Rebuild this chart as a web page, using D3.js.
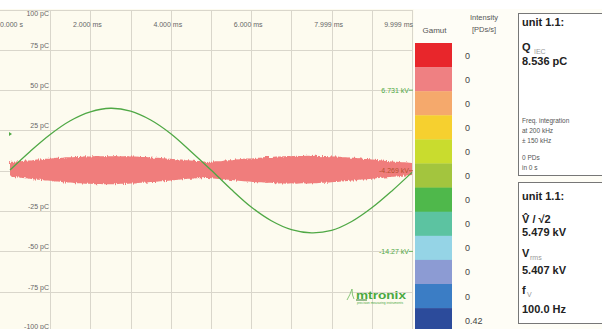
<!DOCTYPE html>
<html>
<head>
<meta charset="utf-8">
<script src="https://cdn.jsdelivr.net/npm/d3@7"></script>
<style>
  html, body { margin: 0; padding: 0; background: #fefdf6; }
  svg { display: block; font-family: "Liberation Sans", Arial, sans-serif; }
</style>
</head>
<body>
<svg id="chart" width="602" height="329"></svg>
<script>
// ---- Axis ticks ----
const xTickValues = [0, 2, 4, 6, 8, 10];               // ms
const xTickLabels = ["0.000 s", "2.000 ms", "4.000 ms", "6.000 ms", "7.999 ms", "9.999 ms"];
const yTickValues = [100, 75, 50, 25, 0, -25, -50, -75, -100]; // pC
const yTickLabels = ["100 pC", "75 pC", "50 pC", "25 pC", "0.0 C", "-25 pC", "-50 pC", "-75 pC", "-100 pC"];

// Voltage markers on the right edge of the plot (placed on the pC gridlines)
const voltMarkAt = [50, 0, -50];
const voltMarkLabels = ["6.731 kV", "-4.269 kV", "-14.27 kV"];
const voltMarkColors = ["#4fa845", "#b3502e", "#4fa845"];

// ---- Test voltage, kV, sampled every 0.5 ms ----
const voltStepMs = 0.5;
const voltageKV = [0.1, 2.4, 4.5, 6.2, 7.3, 7.75, 7.4, 6.3, 4.6, 2.4, 0.1,
                   -2.3, -4.5, -6.2, -7.3, -7.7, -7.4, -6.3, -4.6, -2.5, -0.2];

// ---- PD charge band envelope, pC, sampled every 0.125 ms ----
const pdStepMs = 0.125;
const pdUpper = [5.2, 5.8, 5.8, 6.4, 6.3, 6.8, 6.9, 7.5, 7.4, 8.0, 7.9, 8.4, 8.3, 8.6, 8.6, 9.0, 8.8, 9.1, 9.0, 9.2, 9.0,
                 9.2, 8.9, 9.1, 8.8, 8.9, 8.5, 8.6, 8.2, 8.0, 7.9, 7.6, 7.4, 7.1, 6.9, 6.5, 6.4, 6.0, 5.9, 5.5, 5.6,
                 5.9, 5.9, 6.5, 6.5, 7.0, 7.1, 7.6, 7.6, 8.1, 8.1, 8.5, 8.5, 8.8, 8.8, 9.1, 9.0, 9.3, 9.1, 9.3, 9.2,
                 9.3, 9.0, 9.1, 8.8, 8.8, 8.4, 8.4, 8.0, 7.9, 7.5, 7.3, 7.0, 6.7, 6.4, 6.1, 5.8, 5.6, 5.2, 5.1, 4.8];
const pdLower = [-3.5, -4.0, -4.2, -4.7, -4.9, -5.4, -5.6, -6.1, -6.2, -6.7, -6.8, -7.3, -7.3, -7.7, -7.7, -8.1, -8.0, -8.3, -8.2, -8.4, -8.3,
                 -8.4, -8.1, -8.2, -7.9, -7.9, -7.5, -7.4, -7.0, -6.9, -6.5, -6.3, -6.0, -5.7, -5.5, -5.1, -5.0, -4.7, -4.7, -4.5, -4.6,
                 -4.9, -5.1, -5.5, -5.7, -6.1, -6.3, -6.7, -6.8, -7.2, -7.2, -7.6, -7.5, -7.9, -7.7, -8.0, -7.8, -8.0, -7.8, -7.9, -7.7,
                 -7.8, -7.5, -7.5, -7.1, -7.0, -6.6, -6.5, -6.1, -5.9, -5.5, -5.3, -4.9, -4.7, -4.3, -4.1, -3.7, -3.5, -3.1, -2.9, -2.6];

// ---- Gamut legend ----
const gamutColors = ["#e8262b", "#ef8082", "#f5a96c", "#f6d02f", "#c9dc2e", "#a3c53e",
                     "#4fb84b", "#5cc3a1", "#95d4e6", "#8c9bd3", "#3b7dc5", "#2c4b9b"];
const gamutIntensity = ["0", "0", "0", "0", "0", "0", "0", "0", "0", "0", "0", "0.42"];

const svg = d3.select("#chart");

// Noise texture for the dense PD pulse band
const defs = svg.append("defs");
const rough = defs.append("filter").attr("id", "rough")
  .attr("x", "-2%").attr("y", "-40%").attr("width", "104%").attr("height", "180%");
rough.append("feTurbulence").attr("type", "fractalNoise").attr("baseFrequency", "0.9 0.06")
  .attr("numOctaves", 2).attr("seed", 7).attr("result", "noise");
rough.append("feDisplacementMap").attr("in", "SourceGraphic").attr("in2", "noise")
  .attr("scale", 4).attr("xChannelSelector", "B").attr("yChannelSelector", "R");

// Scales
const x = d3.scaleLinear().domain([0, 10]).range([10, 412]);
const y = d3.scaleLinear().domain([-100, 100]).range([332, 9.5]);
const yV = d3.scaleLinear().domain([-20, 20]).range([332, 9.5]);

// Plot background
svg.append("rect").attr("x", 0).attr("y", 0).attr("width", 602).attr("height", 9).attr("fill", "#ffffff");
svg.append("rect").attr("x", 0).attr("y", 9).attr("width", 414).attr("height", 320).attr("fill", "#fdfbef");

// Gridlines
const grid = svg.append("g").attr("stroke", "#d9d6cb").attr("stroke-width", 1).attr("shape-rendering", "crispEdges");
grid.selectAll("line.v").data(d3.range(1, 11)).join("line")
  .attr("x1", d => Math.round(x(d)) + 0.5).attr("x2", d => Math.round(x(d)) + 0.5)
  .attr("y1", y(100)).attr("y2", 329);
grid.selectAll("line.h").data(yTickValues).join("line")
  .attr("x1", 0).attr("x2", x(10))
  .attr("y1", d => Math.round(y(d)) + 0.5).attr("y2", d => Math.round(y(d)) + 0.5);

// Y axis labels
svg.append("g").selectAll("text").data(yTickValues).join("text")
  .attr("x", 49)
  .attr("y", (d, i) => i === 0 ? y(d) + 6.5 : (i === yTickValues.length - 1 ? 328.5 : y(d) - 2))
  .attr("text-anchor", "end")
  .attr("font-size", 7)
  .attr("fill", d => d === 0 ? "#d8413a" : "#666")
  .text((d, i) => yTickLabels[i]);

// X axis labels (top)
svg.append("g").selectAll("text").data(xTickValues).join("text")
  .attr("x", (d, i) => i === 0 ? 0 : (i === xTickValues.length - 1 ? x(d) + 1 : x(d) - 3))
  .attr("y", 26.5)
  .attr("text-anchor", (d, i) => i === 0 ? "start" : (i === xTickValues.length - 1 ? "end" : "middle"))
  .attr("font-size", 7)
  .attr("fill", "#666")
  .text((d, i) => xTickLabels[i]);

// PD charge band
const pdData = pdUpper.map((u, i) => ({ t: i * pdStepMs, hi: u, lo: pdLower[i] }));
svg.append("path").datum(pdData)
  .attr("fill", "#f07d7b")
  .attr("filter", "url(#rough)")
  .attr("d", d3.area().x(d => x(d.t)).y0(d => y(d.lo)).y1(d => y(d.hi)).curve(d3.curveMonotoneX));

// Test voltage trace
const vData = voltageKV.map((v, i) => ({ t: i * voltStepMs, v }));
svg.append("path").datum(vData)
  .attr("fill", "none")
  .attr("stroke", "#4fa845")
  .attr("stroke-width", 1.3)
  .attr("d", d3.line().x(d => x(d.t)).y(d => yV(d.v)).curve(d3.curveCatmullRom));

// Trigger marker on the left edge
svg.append("path")
  .attr("d", "M9,132 L12,134 L9,136 Z")
  .attr("fill", "#4fa845");

// Voltage markers
const vm = svg.append("g");
vm.selectAll("text").data(voltMarkAt).join("text")
  .attr("x", x(10) - 3)
  .attr("y", d => y(d) + 2.5)
  .attr("text-anchor", "end")
  .attr("font-size", 7)
  .attr("fill", (d, i) => voltMarkColors[i])
  .text((d, i) => voltMarkLabels[i]);
vm.selectAll("line").data(voltMarkAt).join("line")
  .attr("x1", x(10) - 3).attr("x2", x(10) + 1)
  .attr("y1", d => y(d)).attr("y2", d => y(d))
  .attr("stroke", (d, i) => voltMarkColors[i]).attr("stroke-width", 0.8);

// Logo
const logo = svg.append("g");
logo.append("path")
  .attr("d", "M347,300 Q350,295 352,289 Q352,296 354,299")
  .attr("fill", "none").attr("stroke", "#7cc06c").attr("stroke-width", 0.9);
logo.append("text").attr("x", 356).attr("y", 298.5)
  .attr("font-size", 11).attr("font-weight", "bold").attr("fill", "#4aa83f")
  .attr("textLength", 50).attr("lengthAdjust", "spacingAndGlyphs").text("mtronix");
logo.append("line").attr("x1", 356).attr("x2", 367).attr("y1", 300).attr("y2", 300)
  .attr("stroke", "#2f7d2b").attr("stroke-width", 1);
logo.append("text").attr("x", 357).attr("y", 304)
  .attr("font-size", 3.2).attr("fill", "#4aa83f")
  .attr("textLength", 46).attr("lengthAdjust", "spacingAndGlyphs").text("precision measuring instruments");

// Gamut legend
const boxTop = 43, boxH = 24.1;
svg.append("text").attr("x", 434.5).attr("y", 33).attr("text-anchor", "middle")
  .attr("font-size", 8).attr("fill", "#555").text("Gamut");
svg.append("text").attr("x", 484).attr("y", 20).attr("text-anchor", "middle")
  .attr("font-size", 7.5).attr("fill", "#555").text("Intensity");
svg.append("text").attr("x", 484).attr("y", 32).attr("text-anchor", "middle")
  .attr("font-size", 7.5).attr("fill", "#555").text("[PDs/s]");
svg.append("g").selectAll("rect").data(gamutColors).join("rect")
  .attr("x", 415).attr("width", 37)
  .attr("y", (d, i) => boxTop + i * boxH).attr("height", boxH + 0.3)
  .attr("fill", d => d);
svg.append("g").selectAll("text").data(gamutIntensity).join("text")
  .attr("x", 465)
  .attr("y", (d, i) => boxTop + i * boxH + boxH / 2 + 3.5)
  .attr("font-size", 9).attr("fill", "#444")
  .text(d => d);

// Readout panels
function panel(y0, h) {
  const g = svg.append("g");
  g.append("rect").attr("x", 518.5).attr("y", y0 + 0.5).attr("width", 100).attr("height", h)
    .attr("fill", "#ffffff").attr("stroke", "#777").attr("stroke-width", 1);
  return g;
}
const p1 = panel(13, 162);
p1.append("text").attr("x", 522).attr("y", 26).attr("font-size", 11).attr("font-weight", "bold").attr("fill", "#222").text("unit 1.1:");
p1.append("text").attr("x", 522).attr("y", 51).attr("font-size", 11).attr("font-weight", "bold").attr("fill", "#222").text("Q");
p1.append("text").attr("x", 534).attr("y", 54).attr("font-size", 7).attr("fill", "#999").text("IEC");
p1.append("text").attr("x", 522).attr("y", 65).attr("font-size", 11).attr("font-weight", "bold").attr("fill", "#222").text("8.536 pC");
const smallLines = [["Freq. integration", 123], ["at 200 kHz", 133], ["± 150 kHz", 143], ["0 PDs", 160], ["in 0 s", 170]];
p1.append("g").selectAll("text").data(smallLines).join("text")
  .attr("x", 522).attr("y", d => d[1]).attr("font-size", 6.5).attr("fill", "#555").text(d => d[0]);

const p2 = panel(182, 141);
p2.append("text").attr("x", 522).attr("y", 200).attr("font-size", 11).attr("font-weight", "bold").attr("fill", "#222").text("unit 1.1:");
p2.append("text").attr("x", 522).attr("y", 223).attr("font-size", 11).attr("font-weight", "bold").attr("fill", "#222").text("V\u0302 / \u221A2");
p2.append("text").attr("x", 522).attr("y", 236).attr("font-size", 11).attr("font-weight", "bold").attr("fill", "#222").text("5.479 kV");
p2.append("text").attr("x", 522).attr("y", 257).attr("font-size", 11).attr("font-weight", "bold").attr("fill", "#222").text("V");
p2.append("text").attr("x", 530).attr("y", 260).attr("font-size", 7).attr("fill", "#999").text("rms");
p2.append("text").attr("x", 522).attr("y", 274).attr("font-size", 11).attr("font-weight", "bold").attr("fill", "#222").text("5.407 kV");
p2.append("text").attr("x", 522).attr("y", 294).attr("font-size", 11).attr("font-weight", "bold").attr("fill", "#222").text("f");
p2.append("text").attr("x", 527).attr("y", 297).attr("font-size", 7).attr("fill", "#999").text("V");
p2.append("text").attr("x", 522).attr("y", 313).attr("font-size", 11).attr("font-weight", "bold").attr("fill", "#222").text("100.0 Hz");
</script>
</body>
</html>
